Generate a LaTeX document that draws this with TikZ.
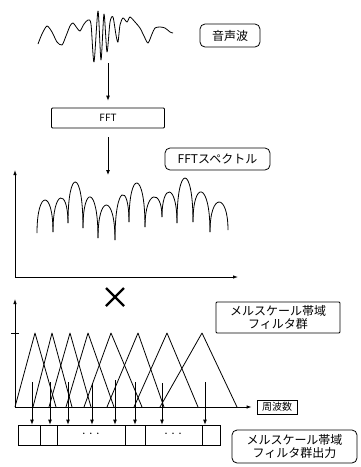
\documentclass[tikz,border=0pt]{standalone}
\usepackage{fontspec}
\newfontfamily\jp{Noto Sans CJK JP}
\usetikzlibrary{arrows.meta}
\tikzset{
 lbl/.style={draw,thick,rounded corners=5pt,align=center,inner sep=1pt,
             font=\jp\fontsize{12}{13}\selectfont},
 tag/.style={draw,thick,rounded corners=1pt,align=center,inner sep=1pt,
             font=\jp\fontsize{12}{13}\selectfont},
 arrow/.style={-{Latex[length=5pt,width=4pt]},thick},
 axis/.style={-{Latex[length=5pt,width=3.5pt]},thick},
 curve/.style={thick,line join=round}
}

\begin{document}
\begin{tikzpicture}[x=1pt,y=-1pt]
\useasboundingbox (0,0) rectangle (360,467);
% speech wave
\draw[curve] plot[smooth,tension=0.45] coordinates {
 (38,44) (42,34) (47,26) (52,32) (57,42) (62,45) (66,36) (70,26) (73,23)
 (77,28) (80,31) (84,24) (88,20) (91,24) (94,62) (98,11) (101,60)
 (104,14) (107,52) (110,22) (113,17) (116,35)
 (118,42) (120,25) (123,18) (127,22) (130,17) (135,22) (140,28) (144,36)
 (148,43) (152,34) (155,28) (160,27) (165,28) (170,32) (173,33)};
\coordinate (wave) at (108,63);
\node[lbl,minimum width=60pt,minimum height=23pt] (speech) at (230,35.5) {音声波};
\node[tag,minimum width=113pt,minimum height=20pt,font=\jp\fontsize{10}{12}\selectfont] (fft) at (108,118) {FFT};
\draw[arrow,shorten >=7pt] (wave) -- (fft);
% FFT spectrum
\coordinate (spec) at (108,175);
\draw[arrow,shorten <=9pt] (fft) -- (spec);
\node[lbl,minimum width=105pt,minimum height=22pt] (spectrum) at (217.5,159) {FFTスペクトル};
\coordinate (o1) at (15,277);
\draw[axis] (o1) -- (15,170);
\draw[axis] (o1) -- (238,277);
\foreach \xa/\ya/\xb/\yb/\t in {37/233/53/232/200, 53/232/68/223/198,
  68/223/83/228/182, 83/228/98/238/197, 98/238/115/240/205,
  115/240/129/222/195, 129/222/145/227/183, 145/227/162/217/197,
  162/217/177/223/192, 177/223/193/222/178, 193/222/210/232/192,
  210/232/228/230/202}
  \draw[curve] (\xa,\ya) .. controls (\xa,{(4*\t-(\ya+\yb)/2)/3})
    and (\xb,{(4*\t-(\ya+\yb)/2)/3}) .. (\xb,\yb);
% times
\draw[line width=2.4pt] (106,288) -- (124,306) (124,288) -- (106,306);
% mel filter bank
\coordinate (o2) at (15,407);
\draw[axis] (o2) -- (15,299);
\draw[thick] (11,333) -- (19,333);
\node[tag,minimum width=40pt,minimum height=14pt,rounded corners=0pt,
      font=\jp\fontsize{10}{11}\selectfont] (freq) at (277,407) {周波数};
\draw[axis,shorten >=5pt] (o2) -- (freq);
\foreach \l/\p/\r in {15/35/56, 33/52/72, 49/70/91, 66/88/114, 84/111/142,
  107/138/164, 134/167/198, 160/202/237}
  \draw[curve] (\l,407) -- (\p,333) -- (\r,407);
\node[tag,minimum width=124pt,minimum height=31pt] (bank) at (278,317.5) {メルスケール帯域\\フィルタ群};
% filter outputs
\node[draw,thick,minimum width=202pt,minimum height=20pt,inner sep=0pt] (out) at (119,435) {};
\foreach \x in {40,57,125,145,202}
  \draw[thick] (\x,425) -- (\x,445);
\node[font=\jp\fontsize{7}{8}\selectfont] (dotsa) at (91,435) {・・・};
\node[font=\jp\fontsize{7}{8}\selectfont] (dotsb) at (173,435) {・・・};
\foreach \x/\y [count=\i] in {32/382, 50/382, 68/382, 92/383, 115/380,
  135/382, 162/383, 205/382}{
  \coordinate (f\i) at (\x,\y);
  \draw[arrow] (f\i) -- (f\i |- out.north);
}
\node[lbl,minimum width=125pt,minimum height=33pt] (outlbl) at (294.5,446.5) {メルスケール帯域\\フィルタ群出力};
\end{tikzpicture}
\end{document}
